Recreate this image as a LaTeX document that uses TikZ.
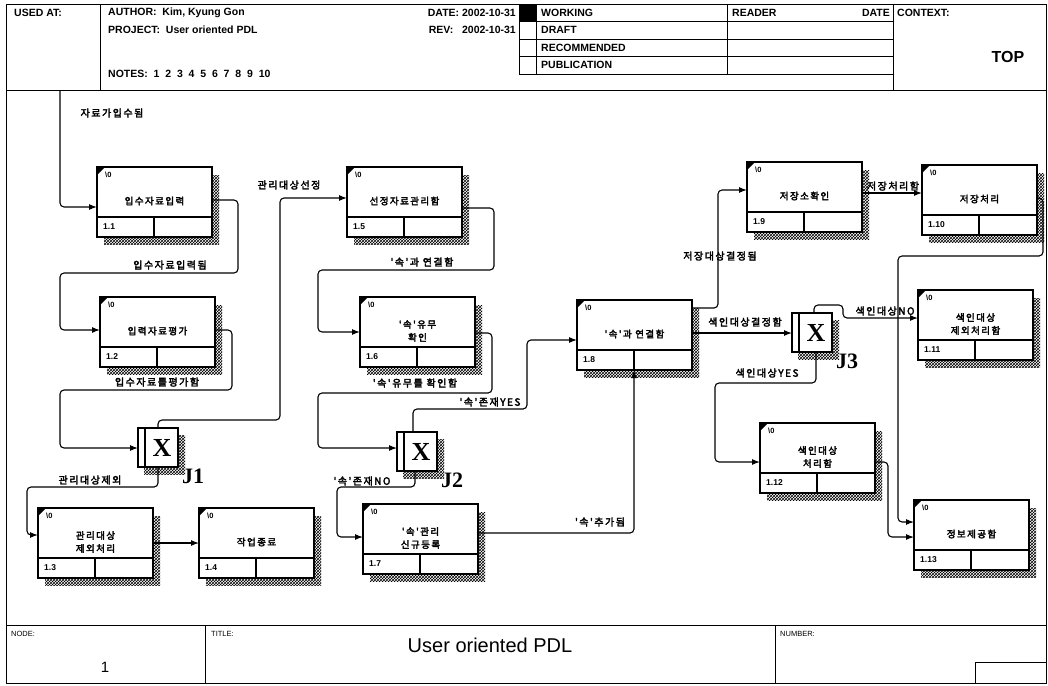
\documentclass[tikz,border=0pt]{standalone}
\usepackage{fontspec}
\setmainfont{Liberation Sans}
\newfontfamily\kr{Noto Sans CJK KR}[LetterSpace=15, FakeBold=3]
\newfontfamily\tms{Liberation Serif}
\usetikzlibrary{arrows.meta,calc,patterns}

\tikzset{
	boxline/.style={line width=1.5pt},
	actframe/.style={draw, line width=1.5pt, fill=white, minimum width=115pt, minimum height=70pt, inner sep=0pt, outer sep=0pt},
	jframe/.style={draw, line width=1.5pt, fill=white, minimum width=40pt, minimum height=39pt, inner sep=0pt, outer sep=0pt},
	hatch/.style={pattern=crosshatch},
	acttxt/.style={font=\kr\fontsize{9.5}{13}\selectfont, align=center, inner sep=0pt},
	numtxt/.style={font=\bfseries\fontsize{8.5}{9}\selectfont, inner sep=0pt},
	tagtxt/.style={font=\bfseries\fontsize{7.5}{8}\selectfont, inner sep=0pt},
	lbl/.style={font=\kr\fontsize{10}{11}\selectfont, inner sep=1pt},
	flow/.style={line width=1.1pt, rounded corners=4pt, -{Latex[length=8pt,width=6pt]}},
	hdr/.style={font=\bfseries\fontsize{10.5}{11}\selectfont, anchor=west, inner sep=0pt},
	small/.style={font=\fontsize{7.5}{9}\selectfont, anchor=west, inner sep=0pt},
	xtxt/.style={font=\tms\bfseries\fontsize{26}{26}\selectfont, inner sep=0pt},
	jtxt/.style={font=\tms\bfseries\fontsize{22}{22}\selectfont, inner sep=0pt, anchor=north west},
}

% activity box: name, x, y, text, number
\newcommand{\actbox}[5]{
	\fill[hatch] (#2+7,#3+8) rectangle (#2+122,#3+77);
	\node[actframe, anchor=north west] (#1) at (#2,#3) {};
	\draw[boxline] (#2,#3+50) -- (#2+115,#3+50) (#2+57,#3+50) -- (#2+57,#3+70);
	\fill (#2,#3) -- (#2+8,#3) -- (#2,#3+8) -- cycle;
	\node[tagtxt, anchor=west] (#1z) at (#2+8,#3+8) {\textbackslash0};
	\node[acttxt] (#1t) at (#2+57.5,#3+34) {#4};
	\node[numtxt, anchor=west] (#1n) at (#2+6,#3+60) {#5};
}

% junction box: name, x, y, label
\newcommand{\jbox}[4]{
	\fill[hatch] (#2+6,#3+7) rectangle (#2+47,#3+46);
	\node[jframe, anchor=north west] (#1) at (#2,#3) {};
	\draw[boxline] (#2+7,#3) -- (#2+7,#3+39);
	\node[xtxt] (#1x) at (#2+24,#3+20) {X};
	\node[jtxt] (#1l) at (#2+44,#3+41) {#4};
}

\begin{document}
\begin{tikzpicture}[x=1pt,y=-1pt]
	\useasboundingbox (0,0) rectangle (1048,685);

	% frame, header
	\draw[line width=0.8pt] (6,4) rectangle (1046,683);
	\draw (6,90) -- (1046,90);
	\draw (100,4) -- (100,90);
	\foreach \xx in {519, 536, 727}
	{
		\draw (\xx,4) -- (\xx,74);
	}
	\draw (893,4) -- (893,90);
	\foreach \yy in {21.5, 39, 56.5, 74}
	{
		\draw (519,\yy) -- (893,\yy);
	}
	\fill (519,4) rectangle (536,21.5);
	\node[hdr] (usedat) at (14,13) {USED AT:};
	\node[hdr] (author) at (108,13) {AUTHOR:\ \ Kim, Kyung Gon};
	\node[hdr] (project) at (108,30) {PROJECT:\ \ User oriented PDL};
	\node[hdr] (notes) at (108,74) {NOTES:\ \ 1\ \ 2\ \ 3\ \ 4\ \ 5\ \ 6\ \ 7\ \ 8\ \ 9\ \ 10};
	\node[hdr, anchor=east] (date) at (516,13) {DATE:\ 2002-10-31};
	\node[hdr, anchor=east] (rev) at (516,30) {REV:\ \ \ 2002-10-31};
	\foreach \r/\t in {0/WORKING, 1/DRAFT, 2/RECOMMENDED, 3/PUBLICATION}
	{
		\node[hdr] (st\r) at (541,12.75+17.5*\r) {\t};
	}
	\node[hdr] (reader) at (732,13) {READER};
	\node[hdr, anchor=east] (rdate) at (890,13) {DATE};
	\node[hdr] (context) at (897,13) {CONTEXT:};
	\node[font=\fontsize{16}{16}\selectfont\bfseries, inner sep=0pt] (top) at (1008,57) {TOP};

	% footer
	\draw (6,625) -- (1046,625);
	\draw (205,625) -- (205,683);
	\draw (775,625) -- (775,683);
	\draw (975,683) |- (1046,662);
	\node[small] (nodelbl) at (11,634) {NODE:};
	\node[small] (titlelbl) at (211,634) {TITLE:};
	\node[small] (numlbl) at (780,634) {NUMBER:};
	\node[font=\fontsize{15}{15}\selectfont, inner sep=0pt] (nodeno) at (105,667) {1};
	\node[font=\fontsize{20}{20}\selectfont, inner sep=0pt] (title) at (490,645) {User oriented PDL};

	% boxes
	\actbox{b11}{97}{167}{입수자료입력}{1.1}
	\actbox{b12}{100}{297}{입력자료평가}{1.2}
	\actbox{b13}{38}{508}{관리대상\\제외처리}{1.3}
	\actbox{b14}{199}{508}{작업종료}{1.4}
	\actbox{b15}{347}{167}{선정자료관리함}{1.5}
	\actbox{b16}{360}{297}{'속'유무\\확인}{1.6}
	\actbox{b17}{363}{504}{'속'관리\\신규등록}{1.7}
	\actbox{b18}{577}{300}{'속'과 연결함}{1.8}
	\actbox{b19}{747}{162}{저장소확인}{1.9}
	\actbox{b110}{922}{165}{저장처리}{1.10}
	\actbox{b111}{918}{290}{색인대상\\제외처리함}{1.11}
	\actbox{b112}{760}{423}{색인대상\\처리함}{1.12}
	\actbox{b113}{914}{500}{정보제공함}{1.13}
	\jbox{j1}{138}{428}{J1}
	\jbox{j2}{397}{432}{J2}
	\jbox{j3}{792}{313}{J3}

	% arrows
	\coordinate (src) at (60,90);
	\draw[flow] (src) |- ($(b11.north west)+(0,40)$);
	\draw[flow] ($(b11.north east)+(0,33)$) -| (238,273) -| (60,330) -- ($(b12.north west)+(0,33)$);
	\draw[flow] ($(b12.north east)+(0,33)$) -| (232,390) -| (60,448) -- ($(j1.north west)+(0,20)$);
	\draw[flow] ($(j1.north west)+(20,0)$) |- (280,420) |- ($(b15.north west)+(0,31)$);
	\draw[flow] ($(j1.south west)+(20,0)$) |- (27,487) |- ($(b13.north west)+(0,27)$);
	\draw[flow] ($(b13.north east)+(0,35)$) -- ($(b14.north west)+(0,35)$);
	\draw[flow] ($(b15.north east)+(0,41)$) -| (494,270) -| (318,332) -- ($(b16.north west)+(0,35)$);
	\draw[flow] ($(b16.north east)+(0,36)$) -| (492,393) -| (318,448) -- ($(j2.north west)+(0,16)$);
	\draw[flow] ($(j2.north west)+(16,0)$) |- (527,409) |- ($(b18.north west)+(0,40)$);
	\draw[flow] ($(j2.south west)+(18,0)$) |- (337,487) |- ($(b17.north west)+(0,33)$);
	\draw[flow] ($(b17.north east)+(0,29)$) -| ($(b18.south west)+(57,0)$);
	\draw[flow] ($(b18.north east)+(0,8)$) -| (718,190) -- ($(b19.north west)+(0,28)$);
	\draw[flow] ($(b18.north east)+(0,33)$) -- ($(j3.north west)+(0,20)$);
	\draw[flow] ($(b19.north east)+(0,31)$) -- ($(b110.north west)+(0,28)$);
	\draw[flow] ($(j3.north west)+(22,0)$) |- (843,305) |- ($(b111.north west)+(0,28)$);
	\draw[flow] ($(j3.south west)+(24,0)$) |- (715,383) |- ($(b112.north west)+(0,39)$);
	\draw[flow] ($(b110.north east)+(0,33)$) -| (1043,256) -| (898,522) -- ($(b113.north west)+(0,22)$);
	\draw[flow] ($(b112.north east)+(0,39)$) -| (888,537) -- ($(b113.north west)+(0,37)$);

	% labels
	\node[lbl] (l1) at (112,113) {자료가입수됨};
	\node[lbl] (l2) at (170,265) {입수자료입력됨};
	\node[lbl] (l3) at (157,382) {입수자료를평가함};
	\node[lbl] (l4) at (289,185) {관리대상선정};
	\node[lbl] (l5) at (90,480) {관리대상제외};
	\node[lbl] (l6) at (422,262) {'속'과 연결함};
	\node[lbl] (l7) at (415,383) {'속'유무를 확인함};
	\node[lbl] (l8) at (490,402) {'속'존재YES};
	\node[lbl] (l9) at (362,481) {'속'존재NO};
	\node[lbl] (l10) at (600,522) {'속'추가됨};
	\node[lbl] (l11) at (720,256) {저장대상결정됨};
	\node[lbl] (l12) at (745,322) {색인대상결정함};
	\node[lbl] (l13) at (893,186) {저장처리함};
	\node[lbl] (l14) at (885,311) {색인대상NO};
	\node[lbl] (l15) at (767,373) {색인대상YES};
\end{tikzpicture}
\end{document}
